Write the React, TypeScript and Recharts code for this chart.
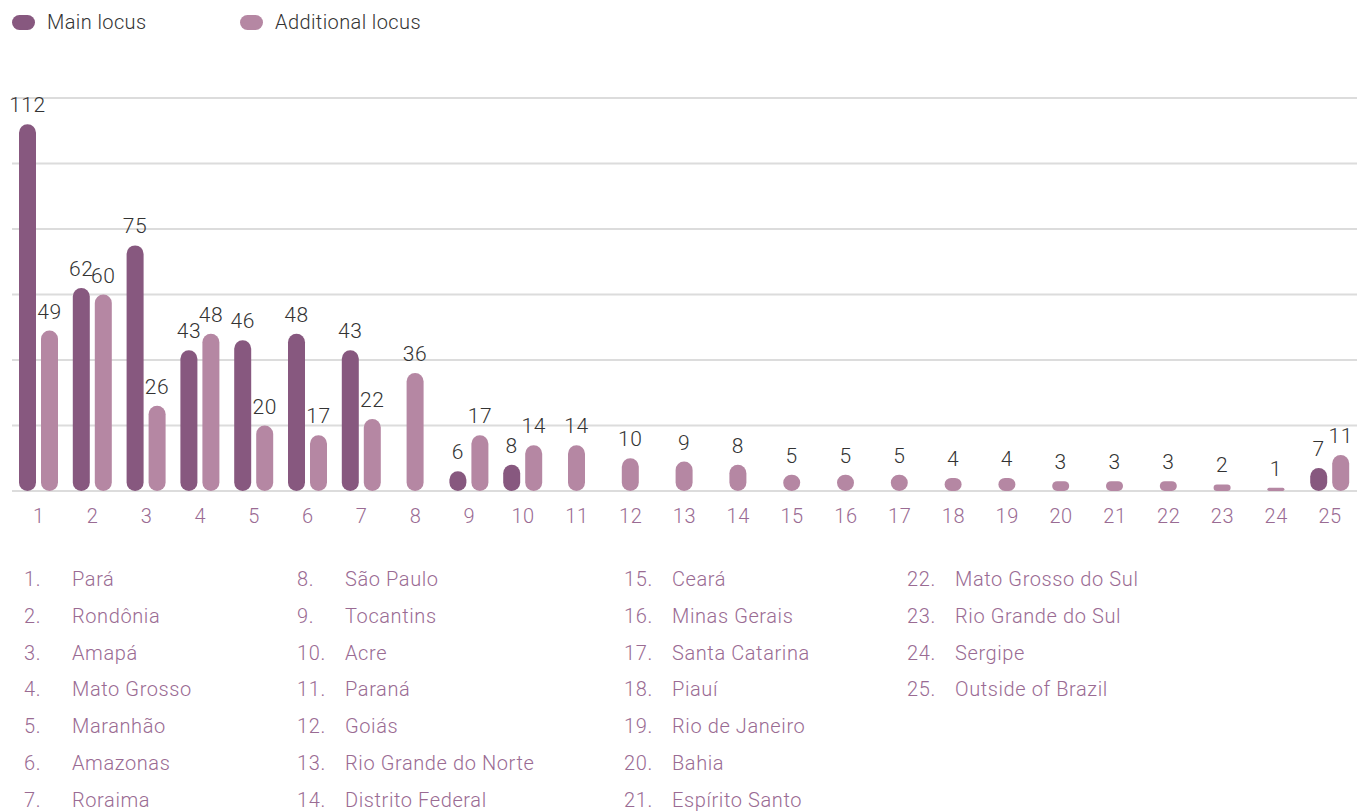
import React from 'react';
import { BarChart, Bar, XAxis, YAxis, CartesianGrid } from 'recharts';

const categories = ['1', '2', '3', '4', '5', '6', '7', '8', '9', '10', '11', '12', '13', '14', '15', '16', '17', '18', '19', '20', '21', '22', '23', '24', '25'];
const mainLocus = [112, 62, 75, 43, 46, 48, 43, null, 6, 8, null, null, null, null, null, null, null, null, null, null, null, null, null, null, 7];
const additionalLocus = [49, 60, 26, 48, 20, 17, 22, 36, 17, 14, 14, 10, 9, 8, 5, 5, 5, 4, 4, 3, 3, 3, 2, 1, 11];
const stateNames = [
  'Pará', 'Rondônia', 'Amapá', 'Mato Grosso', 'Maranhão', 'Amazonas', 'Roraima',
  'São Paulo', 'Tocantins', 'Acre', 'Paraná', 'Goiás', 'Rio Grande do Norte', 'Distrito Federal',
  'Ceará', 'Minas Gerais', 'Santa Catarina', 'Piauí', 'Rio de Janeiro', 'Bahia', 'Espírito Santo',
  'Mato Grosso do Sul', 'Rio Grande do Sul', 'Sergipe', 'Outside of Brazil',
];
const yTicks = [0, 20, 40, 60, 80, 100, 120];

const MAIN_COLOR = '#87587f';
const ADD_COLOR = '#b587a3';
const TEXT_PURPLE = '#9a6b93';
const FONT = 'Roboto, "Liberation Sans", Arial, sans-serif';
const WEIGHT = 300;
const SPACING = 0.6;
const BAR_SIZE = 17;
const BAR_GAP = 5;

const data = categories.map((name, i) => ({
  name,
  main: mainLocus[i],
  additional: additionalLocus[i],
}));

// pill-shaped bar; a lone bar in its category is moved to the centre
function PillBar(props: any) {
  const { x, y, width, height, fill, payload, dataKey } = props;
  const value = payload[dataKey];
  if (value == null || !(height > 0)) return null;
  let bx = x;
  if (dataKey === 'additional' && payload.main == null) bx -= (width + BAR_GAP) / 2;
  if (dataKey === 'main' && payload.additional == null) bx += (width + BAR_GAP) / 2;
  const r = Math.min(width / 2, height / 2);
  return (
    <g>
      <rect x={bx} y={y} width={width} height={height} rx={r} ry={r} fill={fill} />
      <text
        x={bx + width / 2}
        y={y - 12}
        textAnchor="middle"
        fontSize={21}
        fontWeight={WEIGHT}
        letterSpacing={SPACING}
        fill="#333"
        fontFamily={FONT}
      >
        {value}
      </text>
    </g>
  );
}

function LegendItem({ color, label }: { color: string; label: string }) {
  return (
    <div style={{ display: 'flex', alignItems: 'center' }}>
      <span style={{ display: 'inline-block', width: 23, height: 15, borderRadius: 8, background: color, marginRight: 12 }} />
      <span style={{ fontSize: 20, color: '#333', letterSpacing: 0.4 }}>{label}</span>
    </div>
  );
}

export default function App() {
  const columns = [0, 7, 14, 21];
  const colX = [24, 297, 624, 907];
  return (
    <div style={{ position: 'absolute', left: 0, top: 0, width: 1364, height: 812, fontFamily: FONT, fontWeight: WEIGHT, background: '#fff' }}>
      <div style={{ position: 'absolute', left: 12, top: 10, display: 'flex' }}>
        <div style={{ width: 228 }}>
          <LegendItem color={MAIN_COLOR} label="Main locus" />
        </div>
        <LegendItem color={ADD_COLOR} label="Additional locus" />
      </div>

      <div style={{ position: 'absolute', left: 0, top: 0 }}>
        <BarChart
          width={1364}
          height={540}
          data={data}
          margin={{ top: 98, right: 7, left: 12, bottom: 0 }}
          barSize={BAR_SIZE}
          barGap={BAR_GAP}
        >
          <CartesianGrid vertical={false} stroke="#dcdcdc" strokeWidth={2} />
          <XAxis
            dataKey="name"
            interval={0}
            height={49}
            tickLine={false}
            axisLine={false}
            tickMargin={12}
            tick={{ fill: TEXT_PURPLE, fontSize: 20, fontFamily: FONT, fontWeight: WEIGHT, letterSpacing: SPACING }}
          />
          <YAxis hide domain={[0, 120]} ticks={yTicks} />
          <Bar dataKey="main" fill={MAIN_COLOR} isAnimationActive={false} shape={PillBar} />
          <Bar dataKey="additional" fill={ADD_COLOR} isAnimationActive={false} shape={PillBar} />
        </BarChart>
      </div>

      {columns.map((start, c) => (
        <div key={c} style={{ position: 'absolute', left: colX[c], top: 567 }}>
          {stateNames.slice(start, start + 7).map((s, k) => (
            <div key={k} style={{ height: 36.8, display: 'flex', fontSize: 20, color: TEXT_PURPLE, whiteSpace: 'nowrap', letterSpacing: SPACING }}>
              <span style={{ width: 48 }}>{start + k + 1}.</span>
              <span>{s}</span>
            </div>
          ))}
        </div>
      ))}
    </div>
  );
}
